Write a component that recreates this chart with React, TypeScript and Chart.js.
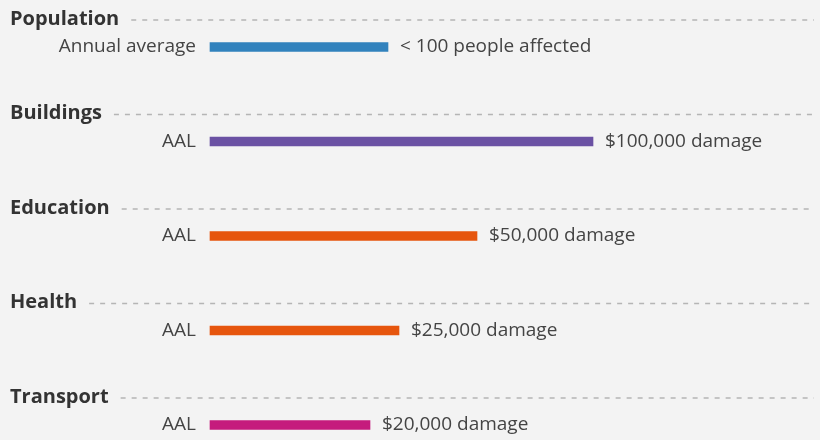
import React, { useEffect, useRef } from "react";
import { Chart, registerables } from "chart.js";

Chart.register(...registerables);

const groups = ["Population", "Buildings", "Education", "Health", "Transport"];
const rowLabels = ["Annual average", "AAL", "AAL", "AAL", "AAL"];
// relative bar lengths as drawn in the reference (visual scale, 0–600)
const barLengths = [178, 383, 267, 189, 160];
const valueLabels = [
  "< 100 people affected",
  "$100,000 damage",
  "$50,000 damage",
  "$25,000 damage",
  "$20,000 damage",
];
const barColors = ["#3182bd", "#6a51a3", "#e6550d", "#e6550d", "#c51b7d"];

const FONT = "'Open Sans', 'Noto Sans', sans-serif";

const labelPlugin = {
  id: "rowLabels",
  afterDatasetsDraw(chart: any) {
    const ctx = chart.ctx;
    const meta = chart.getDatasetMeta(0);
    const area = chart.chartArea;
    ctx.save();
    meta.data.forEach((bar: any, i: number) => {
      const y = bar.y;
      // row label
      ctx.font = `19px ${FONT}`;
      ctx.fillStyle = "#444444";
      ctx.textBaseline = "middle";
      ctx.textAlign = "right";
      ctx.fillText(rowLabels[i], area.left - 14, y);
      // value label
      ctx.textAlign = "left";
      ctx.fillText(valueLabels[i], bar.x + 12, y);
      // header
      const hy = y - 28;
      ctx.font = `bold 20px ${FONT}`;
      ctx.fillStyle = "#333333";
      ctx.fillText(groups[i], 10, hy);
      const w = ctx.measureText(groups[i]).width;
      ctx.beginPath();
      ctx.setLineDash([5, 6]);
      ctx.strokeStyle = "#b5b5b5";
      ctx.lineWidth = 1.5;
      ctx.moveTo(10 + w + 12, hy + 1);
      ctx.lineTo(814, hy + 1);
      ctx.stroke();
      ctx.setLineDash([]);
    });
    ctx.restore();
  },
};

export default function App() {
  const ref = useRef<HTMLCanvasElement | null>(null);
  useEffect(() => {
    if (!ref.current) return;
    const chart = new Chart(ref.current, {
      type: "bar",
      data: {
        labels: groups,
        datasets: [
          {
            data: barLengths,
            backgroundColor: barColors,
            barThickness: 9,
            maxBarThickness: 9,
            borderWidth: 0,
            clip: false,
          },
        ],
      },
      options: {
        indexAxis: "y",
        responsive: false,
        animation: false,
        layout: { padding: { left: 210, right: 10, top: 47, bottom: 15 } },
        plugins: { legend: { display: false }, tooltip: { enabled: false } },
        scales: {
          x: { display: false, min: 0, max: 600 },
          y: { display: false, offset: false },
        },
      },
      plugins: [labelPlugin],
    } as any);
    return () => chart.destroy();
  }, []);
  return (
    <div
      style={{
        position: "fixed",
        left: 0,
        top: 0,
        width: 820,
        height: 440,
        background: "#f3f3f3",
      }}
    >
      <canvas ref={ref} width={820} height={440} />
    </div>
  );
}
